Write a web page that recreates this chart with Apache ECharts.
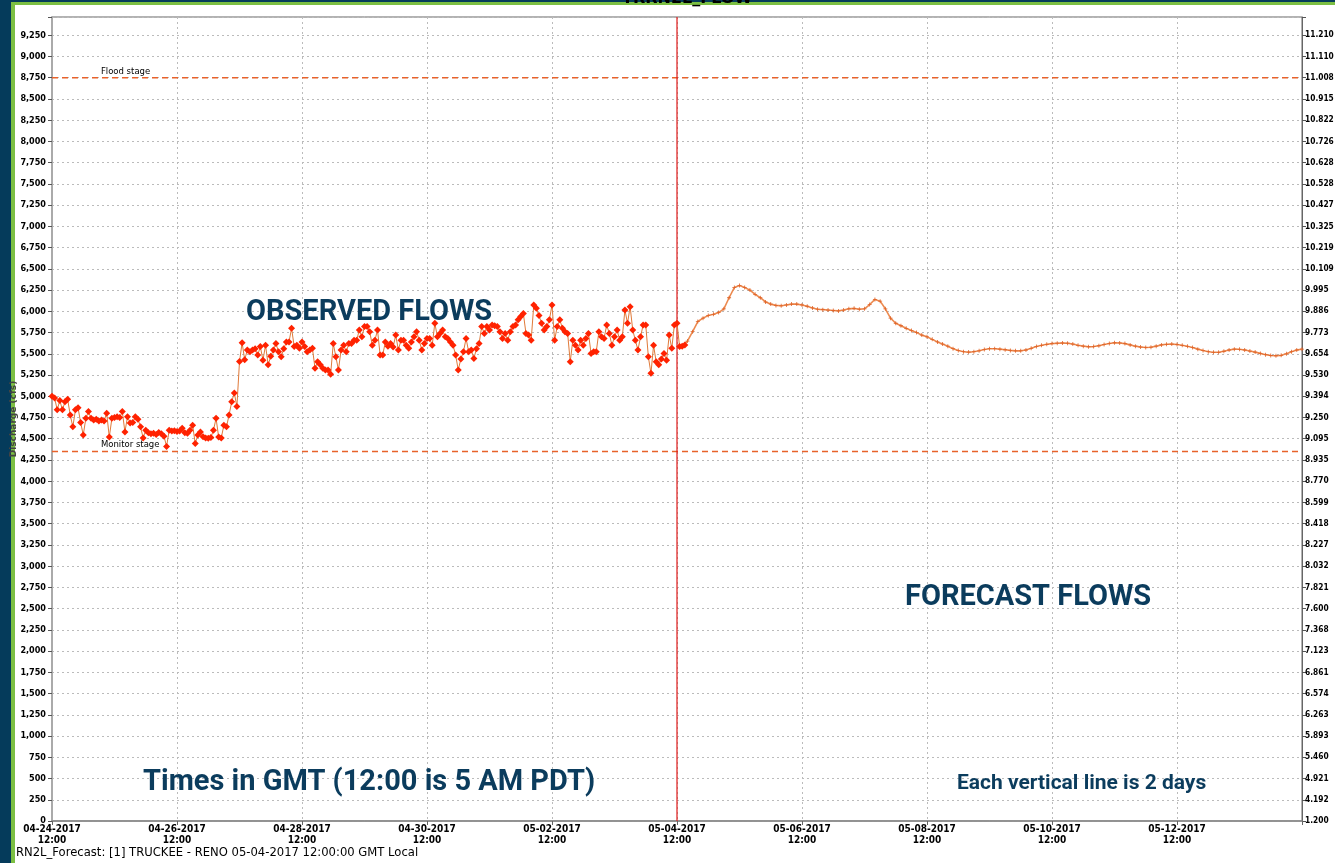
<!DOCTYPE html>
<html><head><meta charset="utf-8">
<script src="https://cdn.jsdelivr.net/npm/echarts@6/dist/echarts.min.js"></script>
<style>html,body{margin:0;padding:0;background:#fff;overflow:hidden}#c{width:1335px;height:863px}</style>
</head><body><div id="c"></div>
<script>
// ---- tick labels ----
const xTickLabels = ['04-24-2017\n12:00','04-26-2017\n12:00','04-28-2017\n12:00','04-30-2017\n12:00','05-02-2017\n12:00',
  '05-04-2017\n12:00','05-06-2017\n12:00','05-08-2017\n12:00','05-10-2017\n12:00','05-12-2017\n12:00',''];
const stageLabels = ['1.200','4.192','4.921','5.460','5.893','6.263','6.574','6.861','7.123','7.368','7.600','7.821',
  '8.032','8.227','8.418','8.599','8.770','8.935','9.095','9.250','9.394','9.530','9.654','9.773','9.886','9.995',
  '10.109','10.219','10.325','10.427','10.528','10.628','10.726','10.822','10.915','11.008','11.110','11.210'];

// ---- observed flows (hourly from 04-24-2017 12:00 GMT) ----
const obsStartHour = 0, obsStepHours = 1;
const observedFlows = [
  5000,4980,4840,4950,4840,4935,4965,4780,4640,4840,4865,4690,
  4545,4740,4820,4740,4720,4730,4710,4720,4710,4800,4520,4740,
  4750,4760,4750,4820,4580,4760,4685,4690,4760,4730,4640,4510,
  4600,4570,4560,4565,4550,4575,4560,4530,4410,4600,4590,4595,
  4585,4590,4625,4570,4565,4600,4660,4445,4545,4580,4525,4510,
  4505,4515,4600,4740,4520,4510,4660,4640,4780,4935,5040,4880,
  5410,5630,5430,5545,5525,5545,5560,5485,5585,5425,5600,5370,
  5470,5545,5620,5525,5465,5560,5640,5640,5800,5585,5600,5565,
  5640,5585,5525,5545,5565,5330,5405,5370,5330,5310,5310,5260,
  5620,5465,5310,5545,5600,5525,5620,5620,5660,5660,5780,5700,
  5820,5820,5760,5600,5660,5780,5485,5485,5640,5590,5620,5580,
  5720,5545,5660,5660,5600,5565,5640,5700,5760,5660,5545,5620,
  5680,5680,5600,5860,5700,5740,5780,5700,5680,5640,5600,5485,
  5310,5440,5525,5680,5525,5545,5445,5560,5620,5820,5740,5820,
  5780,5840,5830,5820,5760,5680,5740,5660,5760,5820,5840,5900,
  5940,5975,5740,5720,5660,6075,6035,5950,5860,5780,5820,5900,
  6075,5660,5820,5900,5800,5760,5740,5405,5660,5600,5545,5660,
  5600,5680,5740,5505,5525,5525,5760,5700,5680,5840,5740,5600,
  5700,5780,5660,5700,6015,5860,6055,5780,5660,5545,5700,5840,
  5840,5465,5270,5600,5405,5370,5440,5505,5425,5720,5565,5840,
  5860,5585,5590,5605];

// ---- forecast flows (2-hourly from 05-04-2017 14:00 GMT) ----
const fcStartHour = 242, fcStepHours = 2;
const forecastFlows = [
  5590,5650,5760,5880,5920,5950,5965,5985,6030,6160,6280,6305,
  6280,6250,6200,6160,6110,6085,6070,6065,6075,6085,6085,6075,
  6060,6040,6025,6020,6015,6010,6005,6015,6030,6035,6025,6030,
  6080,6140,6120,6030,5920,5860,5830,5800,5775,5750,5720,5700,
  5670,5640,5615,5590,5560,5540,5525,5520,5525,5535,5550,5560,
  5560,5555,5548,5540,5535,5535,5545,5565,5585,5600,5612,5620,
  5625,5628,5625,5615,5600,5590,5583,5585,5595,5610,5622,5630,
  5628,5620,5605,5590,5580,5575,5578,5590,5605,5612,5614,5610,
  5600,5588,5575,5555,5538,5525,5518,5518,5530,5545,5555,5553,
  5545,5532,5520,5505,5490,5480,5477,5482,5500,5525,5545,5555];

// ---- reference lines ----
const floodStage = 8750, monitorStage = 4350, nowHour = 240;
const xMin = 0, xMax = 480, yMin = 0, yMax = 9465;
const floodLabelHour = 18, monitorLabelHour = 18;

const obsData = observedFlows.map((v,i)=>[obsStartHour + i*obsStepHours, v]);
const fcData = forecastFlows.map((v,i)=>[fcStartHour + i*fcStepHours, v]);

const navy = '#0b3c5d';
const tickFontY = {fontFamily:'"DejaVu Sans Condensed","DejaVu Sans",sans-serif', fontWeight:'bold', fontSize:9, color:'#000'};
const tickFontR = {fontFamily:'"DejaVu Sans Condensed","DejaVu Sans",sans-serif', fontWeight:'bold', fontSize:8.3, color:'#000'};
const tickFontX = {fontFamily:'"DejaVu Sans Condensed","DejaVu Sans",sans-serif', fontWeight:'bold', fontSize:10, color:'#000'};
const plus = 'path://M4,0h2v4h4v2h-4v4h-2v-4h-4v-2h4z';

function refLine(data, color, type, width){
  return {type:'line', data:data, symbol:'none', silent:true, z:3,
    lineStyle:{color:color, type:type, width:width, opacity:1}, itemStyle:{color:color}};
}

const chart = echarts.init(document.getElementById('c'), null, {renderer:'canvas'});
chart.setOption({
  animation:false,
  backgroundColor:'#fff',
  grid:{left:52, right:33, top:17, bottom:42, outerBoundsMode:'none', containLabel:false,
    show:true, borderColor:'#666', borderWidth:1, backgroundColor:'#fff'},
  xAxis:{type:'value', min:xMin, max:xMax, interval:48,
    axisLine:{lineStyle:{color:'#888', width:1.5}},
    axisTick:{show:true, length:4, lineStyle:{color:'#666'}},
    axisLabel:Object.assign({}, tickFontX, {margin:3, lineHeight:11, formatter:(v)=>xTickLabels[Math.round(v/48)] || ''}),
    splitLine:{show:true, lineStyle:{color:'#bbb', type:[2,3], width:1}}},
  yAxis:[
    {type:'value', min:yMin, max:yMax, interval:250, position:'left',
      axisLine:{show:true, lineStyle:{color:'#aaa', width:2}},
      axisTick:{show:true, length:4, lineStyle:{color:'#555'}},
      axisLabel:Object.assign({}, tickFontY, {margin:6, formatter:(v)=> (v%250===0) ? v.toLocaleString('en-US') : ''}),
      splitLine:{show:true, lineStyle:{color:'#bbb', type:[2,3], width:1}}},
    {type:'value', min:yMin, max:yMax, interval:250, position:'right',
      axisLine:{show:true, lineStyle:{color:'#666', width:1}},
      axisTick:{show:true, length:4, lineStyle:{color:'#555'}},
      axisLabel:Object.assign({}, tickFontR, {margin:3, formatter:(v)=> (v%250===0) ? (stageLabels[Math.round(v/250)]||'') : ''}),
      splitLine:{show:false}}
  ],
  series:[
    refLine([[xMin,floodStage],[xMax,floodStage]], '#e8622a', [6,4], 1.6),
    refLine([[xMin,monitorStage],[xMax,monitorStage]], '#e8622a', [6,4], 1.6),
    refLine([[nowHour,yMin],[nowHour,yMax]], '#e01818', 'solid', 1.2),
    {type:'line', name:'Observed', data:obsData, yAxisIndex:0,
      symbol:'diamond', symbolSize:7, showSymbol:true,
      itemStyle:{color:'#ff2200'}, lineStyle:{color:'#e07a3a', width:1}, z:5},
    {type:'line', name:'Forecast', data:fcData, yAxisIndex:0,
      symbol:plus, symbolSize:4, showSymbol:true,
      itemStyle:{color:'#e06428'}, lineStyle:{color:'#ec8a50', width:1.6}, z:4}
  ]
});

const pF = chart.convertToPixel({gridIndex:0}, [floodLabelHour, floodStage]);
const pM = chart.convertToPixel({gridIndex:0}, [monitorLabelHour, monitorStage]);
chart.setOption({graphic:[
  {type:'text', left:pF[0]+2, top:pF[1]-10, z:50, style:{text:'Flood stage', font:'8.5px "DejaVu Sans"', fill:'#000'}},
  {type:'text', left:pM[0]+2, top:pM[1]-11, z:50, style:{text:'Monitor stage', font:'8.5px "DejaVu Sans"', fill:'#000'}},
  {type:'text', left:246, top:298, z:60, style:{text:'OBSERVED FLOWS', font:'bold 29px Roboto', fill:navy}},
  {type:'text', left:905, top:583, z:60, style:{text:'FORECAST FLOWS', font:'bold 29px Roboto', fill:navy}},
  {type:'text', left:143, top:768, z:60, style:{text:'Times in GMT (12:00 is 5 AM PDT)', font:'bold 29px Roboto', fill:navy}},
  {type:'text', left:957, top:773, z:60, style:{text:'Each vertical line is 2 days', font:'bold 21px Roboto', fill:navy}},
  {type:'text', left:16, top:847, z:60, style:{text:'RN2L_Forecast: [1] TRUCKEE - RENO 05-04-2017 12:00:00 GMT Local', font:'11.6px "DejaVu Sans"', fill:'#000'}},
  // frame
  {type:'rect', left:0, top:0, z:80, shape:{width:11, height:863}, style:{fill:'#053b5b'}},
  {type:'rect', left:11, top:0, z:80, shape:{width:4, height:863}, style:{fill:'#7cbf43'}},
  {type:'rect', left:0, top:0, z:80, shape:{width:1335, height:2}, style:{fill:'#053b5b'}},
  {type:'rect', left:11, top:2, z:80, shape:{width:1324, height:3}, style:{fill:'#7cbf43'}},
  {type:'text', left:622, top:-9, z:90, style:{text:'TRRN2L_FLOW', font:'bold 16px "DejaVu Sans"', fill:'#000'}},
  {type:'text', x:14, y:419, rotation:Math.PI/2, z:90, style:{text:'Discharge (cfs)', font:'bold 9px "DejaVu Sans"', fill:'#444', align:'center', verticalAlign:'middle'}}
]});
</script></body></html>
